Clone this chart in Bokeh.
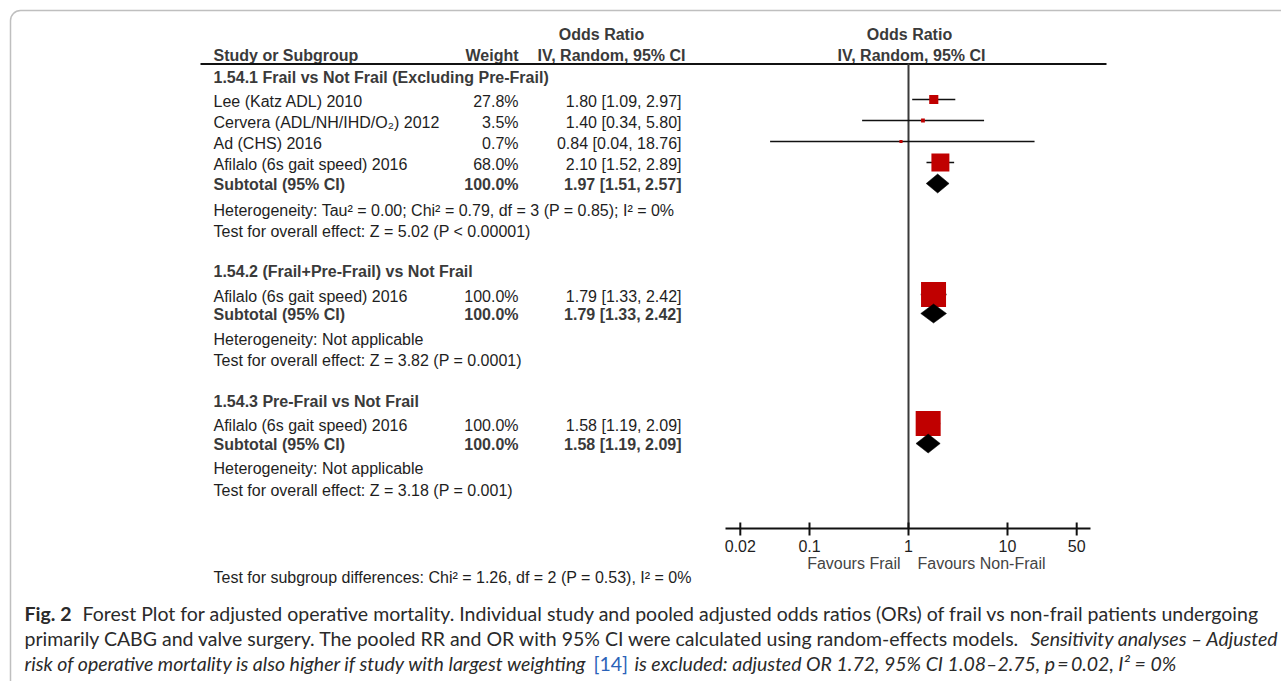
import math
from bokeh.plotting import figure
from bokeh.models import Range1d, LogScale, BoxAnnotation
from bokeh.embed import file_html
from bokeh.resources import INLINE
from bokeh.core.properties import value

# ---------------- data ----------------
group_titles = [
    "1.54.1 Frail vs Not Frail (Excluding Pre-Frail)",
    "1.54.2 (Frail+Pre-Frail) vs Not Frail",
    "1.54.3 Pre-Frail vs Not Frail",
]
studies = [
    "Lee (Katz ADL) 2010",
    "Cervera (ADL/NH/IHD/O\u2082) 2012",
    "Ad (CHS) 2016",
    "Afilalo (6s gait speed) 2016",
    "Afilalo (6s gait speed) 2016",
    "Afilalo (6s gait speed) 2016",
]
weights = [27.8, 3.5, 0.7, 68.0, 100.0, 100.0]
or_est = [1.80, 1.40, 0.84, 2.10, 1.79, 1.58]
or_lo = [1.09, 0.34, 0.04, 1.52, 1.33, 1.19]
or_hi = [2.97, 5.80, 18.76, 2.89, 2.42, 2.09]

sub_weight = [100.0, 100.0, 100.0]
sub_est = [1.97, 1.79, 1.58]
sub_lo = [1.51, 1.33, 1.19]
sub_hi = [2.57, 2.42, 2.09]

heterogeneity = [
    "Heterogeneity: Tau\u00b2 = 0.00; Chi\u00b2 = 0.79, df = 3 (P = 0.85); I\u00b2 = 0%",
    "Heterogeneity: Not applicable",
    "Heterogeneity: Not applicable",
]
overall = [
    "Test for overall effect: Z = 5.02 (P < 0.00001)",
    "Test for overall effect: Z = 3.82 (P = 0.0001)",
    "Test for overall effect: Z = 3.18 (P = 0.001)",
]
subgroup_test = "Test for subgroup differences: Chi\u00b2 = 1.26, df = 2 (P = 0.53), I\u00b2 = 0%"

tick_values = [0.02, 0.1, 1, 10, 50]
tick_labels = ["0.02", "0.1", "1", "10", "50"]
favours = ["Favours Frail", "Favours Non-Frail"]

caption_l1 = ["Fig. 2", "Forest Plot for adjusted operative mortality. Individual study and pooled adjusted odds ratios (ORs) of frail vs non-frail patients undergoing"]
caption_l2 = ["primarily CABG and valve surgery. The pooled RR and OR with 95% CI were calculated using random-effects models.", "Sensitivity analyses \u2013 Adjusted"]
caption_l3 = ["risk of operative mortality is also higher if study with largest weighting", "[14]", "is excluded: adjusted OR 1.72, 95% CI 1.08\u20132.75, p\u2009=\u20090.02, I\u00b2 = 0%"]

# ---------------- layout (picture pixel coordinates) ----------------
W, H = 1281, 681
X_ONE = 908      # x of OR = 1
DECADE = 99      # px per decade
COL_STUDY = 213
COL_WEIGHT = 518
COL_CI = 681
study_y = [101, 122, 143, 164, 296, 425]
group_y = [77, 271, 401]
subtotal_y = [184, 314, 444]
het_y = [210, 339, 468]
overall_y = [231, 360, 490]
AXIS_Y = 528
MARK_DY = -2

TEXT = "#1e1e1e"
BOLDC = "#3a3a3a"
RED = "#C00000"
FONT = value("Liberation Sans")
CAP_FONT = value("Lato")

p = figure(width=W, height=H, output_backend="svg", toolbar_location=None,
           x_range=Range1d(0, W), y_range=Range1d(H, 0),
           x_axis_type=None, y_axis_type=None, min_border=0,
           outline_line_color=None, background_fill_color="white")
p.extra_x_ranges = {"or": Range1d(10 ** ((0 - X_ONE) / DECADE),
                                  10 ** ((W - X_ONE) / DECADE))}
p.extra_x_scales = {"or": LogScale()}


def txt(x, y, t, bold=False, italic=False, align="left", color=TEXT,
        size="16px", font=FONT, xr="default"):
    style = "bold" if bold else ("italic" if italic else "normal")
    p.text(x=x, y=y, text=t, text_font=font, text_font_size=size,
           text_font_style=style, text_align=align, text_baseline="middle",
           text_color=color, x_range_name=xr)


# frame
p.add_layout(BoxAnnotation(left=10, right=1400, top=10, bottom=900,
                           border_radius=10, fill_color=None,
                           line_color="#2a2a2a", line_width=1.5))

# headers
txt([601, 909], [34, 34], ["Odds Ratio", "Odds Ratio"], bold=True, align="center", color=BOLDC)
txt([611, 911], [55, 55], ["IV, Random, 95% CI", "IV, Random, 95% CI"], bold=True, align="center", color=BOLDC)
txt([COL_STUDY], [55], ["Study or Subgroup"], bold=True, color=BOLDC)
txt([COL_WEIGHT], [55], ["Weight"], bold=True, align="right", color=BOLDC)
p.segment(x0=[200], x1=[1106], y0=[63.5], y1=[63.5], line_color="#111111", line_width=2)

# group titles, studies
txt([COL_STUDY] * 3, group_y, group_titles, bold=True, color=BOLDC)
txt([COL_STUDY] * len(studies), study_y, studies)
txt([COL_WEIGHT] * len(weights), study_y, [f"{w:.1f}%" for w in weights], align="right")
txt([COL_CI] * len(or_est), study_y,
    [f"{e:.2f} [{l:.2f}, {h:.2f}]" for e, l, h in zip(or_est, or_lo, or_hi)], align="right")

# subtotals
txt([COL_STUDY] * 3, subtotal_y, ["Subtotal (95% CI)"] * 3, bold=True, color=BOLDC)
txt([COL_WEIGHT] * 3, subtotal_y, [f"{w:.1f}%" for w in sub_weight], bold=True, align="right", color=BOLDC)
txt([COL_CI] * 3, subtotal_y,
    [f"{e:.2f} [{l:.2f}, {h:.2f}]" for e, l, h in zip(sub_est, sub_lo, sub_hi)],
    bold=True, align="right", color=BOLDC)
txt([COL_STUDY] * 3, het_y, heterogeneity)
txt([COL_STUDY] * 3, overall_y, overall)
txt([COL_STUDY], [577], [subgroup_test])

# forest: line of no effect
p.segment(x0=[1], x1=[1], y0=[63], y1=[AXIS_Y], x_range_name="or",
          line_color="#3a3a3a", line_width=2)

# CI lines and squares
my = [y + MARK_DY for y in study_y]
p.segment(x0=or_lo, x1=or_hi, y0=my, y1=my, x_range_name="or",
          line_color="#111111", line_width=1.5)
p.scatter(x=or_est, y=my, size=[3 + 0.22 * w for w in weights], marker="square",
          x_range_name="or", fill_color=RED, line_color=None)

# diamonds
dy = [y - 1 for y in subtotal_y]
p.patches(xs=[[l, e, h, e] for l, e, h in zip(sub_lo, sub_est, sub_hi)],
          ys=[[y, y - 9.5, y, y + 9.5] for y in dy], x_range_name="or",
          fill_color="black", line_color="black", line_width=0.5)

# axis
p.segment(x0=[725], x1=[1090], y0=[AXIS_Y], y1=[AXIS_Y], line_color="#111111", line_width=2)
p.segment(x0=tick_values, x1=tick_values, y0=[AXIS_Y - 6] * 5, y1=[AXIS_Y + 7] * 5,
          x_range_name="or", line_color="#111111", line_width=2)
txt(tick_values, [545] * 5, tick_labels, align="center", xr="or")
txt([900], [563], [favours[0]], align="right", color="#444444")
txt([917], [563], [favours[1]], align="left", color="#444444")

# caption
CS = "19.5px"
CC = "#2a2a2a"
txt([24], [613], [caption_l1[0]], bold=True, size=CS, font=CAP_FONT, color=CC)
txt([82], [613], [caption_l1[1]], size=CS, font=CAP_FONT, color=CC)
txt([24], [638], [caption_l2[0]], size=CS, font=CAP_FONT, color=CC)
txt([1030], [638], [caption_l2[1]], italic=True, size=CS, font=CAP_FONT, color=CC)
txt([24], [663], [caption_l3[0]], italic=True, size=CS, font=CAP_FONT, color=CC)
txt([593], [663], [caption_l3[1]], size=CS, font=CAP_FONT, color="#2a62b8")
txt([634], [663], [caption_l3[2]], italic=True, size=CS, font=CAP_FONT, color=CC)

open("out.html", "w").write(file_html(p, INLINE))
